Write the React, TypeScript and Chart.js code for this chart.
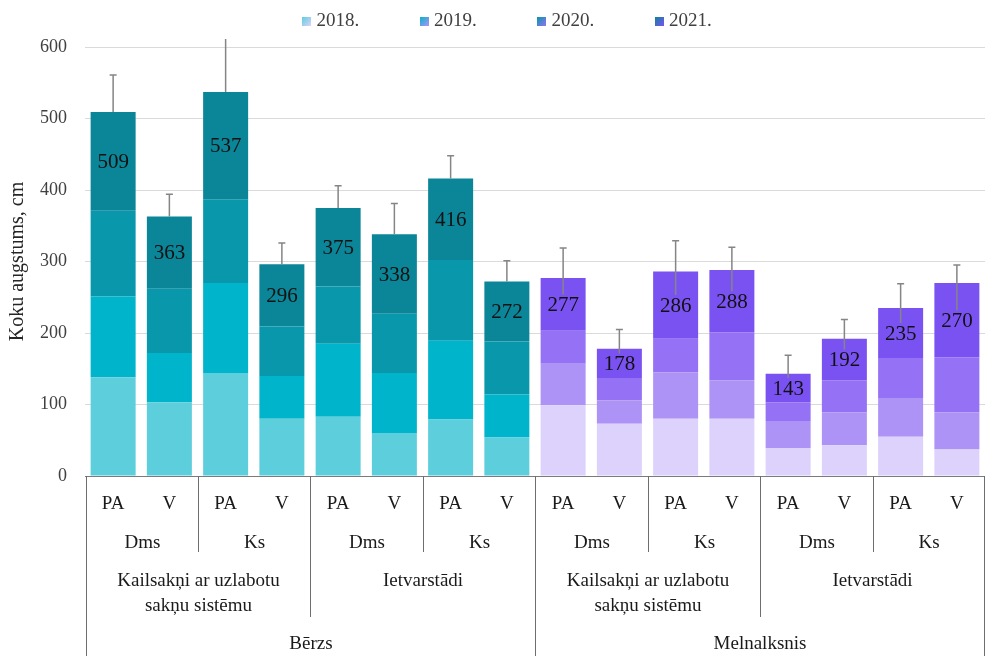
import React, { useEffect, useRef } from 'react';
import { Chart, registerables } from 'chart.js';

Chart.register(...registerables);

// ---- Data ----
const barLabels = ['PA', 'V', 'PA', 'V', 'PA', 'V', 'PA', 'V', 'PA', 'V', 'PA', 'V', 'PA', 'V', 'PA', 'V'];
const subgroupLabels = ['Dms', 'Ks', 'Dms', 'Ks', 'Dms', 'Ks', 'Dms', 'Ks'];
const groupLabels = [
  ['Kailsakņi ar uzlabotu', 'sakņu sistēmu'],
  ['Ietvarstādi'],
  ['Kailsakņi ar uzlabotu', 'sakņu sistēmu'],
  ['Ietvarstādi'],
];
const speciesLabels = ['Bērzs', 'Melnalksnis'];
const years = ['2018.', '2019.', '2020.', '2021.'];

const values2018 = [138, 103, 144, 80, 83, 60, 79, 54, 99, 73, 80, 80, 39, 43, 55, 37];
const values2019 = [113, 69, 126, 60, 102, 84, 110, 60, 58, 33, 65, 54, 38, 46, 54, 52];
const values2020 = [120, 90, 117, 69, 80, 83, 113, 74, 46, 31, 47, 67, 26, 45, 56, 77];
const values2021 = [138, 101, 150, 87, 110, 111, 114, 84, 74, 41, 94, 87, 40, 58, 70, 104];
const errorPlus = [52, 31, 80, 30, 31, 43, 32, 29, 42, 27, 43, 32, 26, 27, 34, 25];

const yTicksMax = 600;
const yTickStep = 100;

const tealColors = ['#5dcedb', '#00b4cb', '#0997ab', '#0b8598'];
const purpleColors = ['#ddd2fc', '#ae93f7', '#9471f5', '#7b52f2'];
const speciesOfBar = [0, 0, 0, 0, 0, 0, 0, 0, 1, 1, 1, 1, 1, 1, 1, 1];

const seriesValues = [values2018, values2019, values2020, values2021];
const totals = values2018.map((_, i) => seriesValues.reduce((s, arr) => s + arr[i], 0));

const FONT = "'Liberation Serif', 'Times New Roman', serif";

function makeSwatch(c1: string, c2: string): HTMLCanvasElement {
  const cv = document.createElement('canvas');
  cv.width = 9;
  cv.height = 9;
  const c = cv.getContext('2d')!;
  const g = c.createLinearGradient(0, 0, 9, 9);
  g.addColorStop(0, c1);
  g.addColorStop(1, c2);
  c.fillStyle = g;
  c.fillRect(0, 0, 9, 9);
  return cv;
}

const errorAndLabelPlugin = {
  id: 'errorAndLabels',
  afterDatasetsDraw(chart: any) {
    const { ctx, chartArea: area, scales } = chart;
    const ys = scales.y;
    const topMeta = chart.getDatasetMeta(3);
    ctx.save();
    ctx.beginPath();
    ctx.rect(area.left, area.top - 8, area.right - area.left, area.bottom - area.top + 8);
    ctx.clip();
    topMeta.data.forEach((el: any, i: number) => {
      const labelY = (el.y + el.base) / 2;
      const yTop = ys.getPixelForValue(totals[i] + errorPlus[i]);
      const yEnd = speciesOfBar[i] === 1 ? labelY - 10 : el.y;
      ctx.strokeStyle = '#858585';
      ctx.lineWidth = 1.5;
      ctx.beginPath();
      ctx.moveTo(el.x, yTop);
      ctx.lineTo(el.x, yEnd);
      ctx.moveTo(el.x - 3.5, yTop);
      ctx.lineTo(el.x + 3.5, yTop);
      ctx.stroke();
    });
    ctx.restore();
    ctx.save();
    ctx.font = `21px ${FONT}`;
    ctx.fillStyle = '#111111';
    ctx.textAlign = 'center';
    ctx.textBaseline = 'middle';
    topMeta.data.forEach((el: any, i: number) => {
      const labelY = (el.y + el.base) / 2;
      ctx.fillText(String(totals[i]), el.x, labelY + 1);
    });
    ctx.restore();
  },
};

const categoryAxisPlugin = {
  id: 'categoryAxis',
  afterDraw(chart: any) {
    const { ctx, chartArea: area, scales } = chart;
    const xs = scales.x;
    const n = barLabels.length;
    const bottom = area.bottom;
    const boundary = (i: number) => {
      if (i === 0) return area.left + 1.5;
      if (i === n) return area.right - 0.5;
      return Math.round((xs.getPixelForValue(i - 1) + xs.getPixelForValue(i)) / 2) + 0.5;
    };
    ctx.save();
    ctx.strokeStyle = '#6e6e6e';
    ctx.lineWidth = 1;
    for (let i = 0; i <= n; i++) {
      let depth = 0;
      if (i % 8 === 0) depth = 180;
      else if (i % 4 === 0) depth = 141;
      else if (i % 2 === 0) depth = 76;
      if (!depth) continue;
      const x = boundary(i);
      ctx.beginPath();
      ctx.moveTo(x, bottom);
      ctx.lineTo(x, bottom + depth);
      ctx.stroke();
    }
    ctx.fillStyle = '#1a1a1a';
    ctx.textAlign = 'center';
    ctx.textBaseline = 'middle';
    ctx.font = `19px ${FONT}`;
    barLabels.forEach((lab, i) => {
      ctx.fillText(lab, xs.getPixelForValue(i), bottom + 28);
    });
    subgroupLabels.forEach((lab, j) => {
      const cx = (boundary(2 * j) + boundary(2 * j + 2)) / 2;
      ctx.fillText(lab, cx, bottom + 67);
    });
    groupLabels.forEach((lines, k) => {
      const cx = (boundary(4 * k) + boundary(4 * k + 4)) / 2;
      lines.forEach((ln, li) => {
        ctx.fillText(ln, cx, bottom + 105 + li * 25);
      });
    });
    speciesLabels.forEach((lab, s) => {
      const cx = (boundary(8 * s) + boundary(8 * s + 8)) / 2;
      ctx.fillText(lab, cx, bottom + 168);
    });
    ctx.restore();
  },
};

export default function App() {
  const ref = useRef<HTMLCanvasElement | null>(null);
  useEffect(() => {
    if (!ref.current) return;
    const swatches = years.map((_, k) => makeSwatch(tealColors[k], purpleColors[k]));
    const datasets = seriesValues.map((vals, k) => ({
      label: years[k],
      data: vals,
      backgroundColor: speciesOfBar.map((s) => (s === 0 ? tealColors[k] : purpleColors[k])),
      borderWidth: 0,
      barPercentage: 0.8,
      categoryPercentage: 1,
    }));
    const chart = new Chart(ref.current, {
      type: 'bar',
      data: { labels: barLabels, datasets },
      options: {
        responsive: false,
        animation: false,
        layout: { padding: { top: 0, left: 0, right: 0, bottom: 0 } },
        plugins: {
          legend: {
            display: true,
            position: 'top',
            fullSize: false,
            labels: {
              usePointStyle: true,
              boxWidth: 1,
              boxHeight: 9,
              padding: 12,
              color: '#404040',
              font: { family: FONT, size: 19 },
              generateLabels: (c: any) =>
                years.map((y, k) => ({
                  text: y + '           ',
                  fillStyle: tealColors[k],
                  strokeStyle: 'transparent',
                  lineWidth: 0,
                  pointStyle: swatches[k],
                  hidden: !c.isDatasetVisible(k),
                  datasetIndex: k,
                  fontColor: '#404040',
                })),
            },
          },
          subtitle: {
            display: true,
            text: '',
            fullSize: false,
            weight: 500,
            padding: 0,
            font: { size: 6, lineHeight: 1 },
          },
          tooltip: { enabled: false },
        },
        scales: {
          x: {
            stacked: true,
            ticks: { display: false },
            grid: { display: false },
            border: { display: true, color: '#7a7a7a', width: 1 },
            afterFit: (s: any) => {
              s.height = 187;
            },
          },
          y: {
            stacked: true,
            min: 0,
            max: yTicksMax,
            ticks: {
              stepSize: yTickStep,
              color: '#404040',
              font: { family: FONT, size: 18 },
              padding: 18,
            },
            grid: { color: '#dadada', drawTicks: false },
            border: { display: false },
            title: {
              display: true,
              text: 'Koku augstums, cm',
              color: '#262626',
              font: { family: FONT, size: 20 },
              padding: { top: 6, bottom: 0 },
            },
            afterFit: (s: any) => {
              s.width = 85;
            },
          },
        },
      },
      plugins: [errorAndLabelPlugin, categoryAxisPlugin],
    });
    return () => chart.destroy();
  }, []);
  return (
    <div style={{ position: 'fixed', left: 0, top: 0, width: 985, height: 663, background: '#fff' }}>
      <canvas ref={ref} width={985} height={663} />
    </div>
  );
}
